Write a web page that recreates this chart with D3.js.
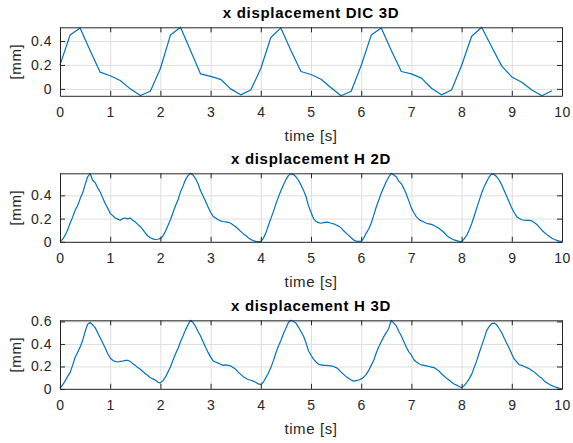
<!DOCTYPE html>
<html>
<head>
<meta charset="utf-8">
<script src="https://cdn.jsdelivr.net/npm/d3@7"></script>
<style>
  body { margin: 0; background: #fff; }
  svg { font-family: "Liberation Sans", Arial, sans-serif; }
  .grid line { stroke: #dedede; stroke-width: 1; }
  .grid path { display: none; }
  .ax path, .ax line { stroke: #262626; }
  .ax text { fill: #262626; font-size: 14px; letter-spacing: 0.5px; }
</style>
</head>
<body>
<div id="chart"></div>
<script>
// titles of the three subplots
var titles = ["x displacement DIC 3D", "x displacement H 2D", "x displacement H 3D"];
var xTicks = [0, 1, 2, 3, 4, 5, 6, 7, 8, 9, 10];
var yTicks = [[0, 0.2, 0.4], [0, 0.2, 0.4], [0, 0.2, 0.4, 0.6]];

// DIC 3D, sampled every 0.2 s
var dicTime = d3.range(0, 50).map(function(i) { return i * 0.2; });
var dic3d = [
  0.20, 0.45, 0.51, 0.32, 0.14, 0.11, 0.07, 0.00, -0.056, -0.02,
  0.17, 0.45, 0.515, 0.32, 0.125, 0.105, 0.08, 0.00, -0.05, -0.01,
  0.17, 0.43, 0.51, 0.32, 0.145, 0.12, 0.08, 0.01, -0.058, -0.02,
  0.195, 0.45, 0.51, 0.32, 0.145, 0.125, 0.09, 0.005, -0.05, -0.01,
  0.195, 0.44, 0.515, 0.35, 0.19, 0.10, 0.055, -0.01, -0.058, -0.015
];

// H 2D and H 3D, sampled every 0.05 s
var hTime = d3.range(0, 201).map(function(i) { return i * 0.05; });
var h2d = [
  0.005, 0.02, 0.055, 0.10, 0.16, 0.21, 0.27, 0.31, 0.37, 0.42,
  0.49, 0.56, 0.588, 0.53, 0.51, 0.465, 0.43, 0.38, 0.33, 0.29,
  0.245, 0.225, 0.205, 0.195, 0.185, 0.20, 0.205, 0.198, 0.205, 0.185,
  0.17, 0.15, 0.13, 0.105, 0.075, 0.05, 0.035, 0.025, 0.02, 0.022,
  0.03, 0.05, 0.09, 0.14, 0.19, 0.25, 0.31, 0.36, 0.43, 0.48,
  0.535, 0.57, 0.59, 0.575, 0.545, 0.50, 0.44, 0.395, 0.35, 0.30,
  0.255, 0.22, 0.205, 0.19, 0.18, 0.175, 0.172, 0.168, 0.16, 0.145,
  0.13, 0.11, 0.09, 0.07, 0.055, 0.035, 0.02, 0.01, 0.004, 0.002,
  0.002, 0.03, 0.075, 0.14, 0.20, 0.26, 0.325, 0.385, 0.44, 0.49,
  0.535, 0.57, 0.585, 0.58, 0.56, 0.53, 0.49, 0.445, 0.39, 0.31,
  0.255, 0.20, 0.175, 0.165, 0.16, 0.165, 0.17, 0.168, 0.16, 0.155,
  0.145, 0.135, 0.12, 0.095, 0.075, 0.055, 0.035, 0.015, 0.006, 0.003,
  0.005, 0.03, 0.075, 0.11, 0.16, 0.23, 0.30, 0.36, 0.42, 0.47,
  0.52, 0.56, 0.59, 0.575, 0.56, 0.52, 0.50, 0.46, 0.41, 0.35,
  0.29, 0.25, 0.215, 0.195, 0.18, 0.17, 0.16, 0.155, 0.15, 0.14,
  0.13, 0.115, 0.10, 0.08, 0.055, 0.04, 0.026, 0.016, 0.01, 0.004,
  0.0, 0.025, 0.055, 0.10, 0.155, 0.22, 0.29, 0.355, 0.42, 0.475,
  0.52, 0.56, 0.585, 0.58, 0.56, 0.53, 0.49, 0.44, 0.39, 0.34,
  0.29, 0.25, 0.215, 0.20, 0.19, 0.187, 0.185, 0.185, 0.18, 0.165,
  0.15, 0.125, 0.10, 0.08, 0.062, 0.045, 0.03, 0.02, 0.012, 0.006,
  0.003
];
var h3d = [
  0.005, 0.035, 0.07, 0.11, 0.145, 0.21, 0.28, 0.325, 0.37, 0.43,
  0.51, 0.575, 0.59, 0.57, 0.545, 0.50, 0.455, 0.41, 0.365, 0.315,
  0.275, 0.255, 0.245, 0.24, 0.245, 0.248, 0.255, 0.255, 0.245, 0.225,
  0.21, 0.19, 0.175, 0.155, 0.135, 0.12, 0.10, 0.09, 0.08, 0.06,
  0.055, 0.075, 0.105, 0.15, 0.195, 0.255, 0.31, 0.36, 0.42, 0.47,
  0.525, 0.57, 0.61, 0.59, 0.555, 0.51, 0.47, 0.42, 0.37, 0.325,
  0.285, 0.25, 0.24, 0.23, 0.22, 0.21, 0.215, 0.21, 0.205, 0.19,
  0.175, 0.15, 0.13, 0.11, 0.095, 0.085, 0.078, 0.07, 0.06, 0.045,
  0.04, 0.06, 0.10, 0.14, 0.19, 0.25, 0.32, 0.38, 0.43, 0.49,
  0.54, 0.59, 0.61, 0.60, 0.585, 0.55, 0.51, 0.47, 0.41, 0.34,
  0.30, 0.265, 0.24, 0.22, 0.215, 0.21, 0.21, 0.208, 0.205, 0.20,
  0.19, 0.175, 0.15, 0.13, 0.11, 0.095, 0.08, 0.07, 0.075, 0.08,
  0.09, 0.105, 0.13, 0.165, 0.21, 0.255, 0.32, 0.375, 0.42, 0.465,
  0.50, 0.54, 0.61, 0.585, 0.56, 0.51, 0.47, 0.42, 0.37, 0.33,
  0.30, 0.26, 0.24, 0.225, 0.215, 0.21, 0.205, 0.20, 0.195, 0.19,
  0.175, 0.16, 0.135, 0.115, 0.095, 0.08, 0.06, 0.045, 0.035, 0.022,
  0.012, 0.03, 0.057, 0.09, 0.13, 0.19, 0.25, 0.32, 0.385, 0.45,
  0.52, 0.555, 0.58, 0.585, 0.57, 0.535, 0.50, 0.45, 0.405, 0.36,
  0.31, 0.265, 0.24, 0.215, 0.21, 0.20, 0.19, 0.18, 0.165, 0.15,
  0.13, 0.11, 0.095, 0.07, 0.055, 0.04, 0.03, 0.02, 0.013, 0.006,
  0.002
];

var series = [
  { time: dicTime, value: dic3d },
  { time: hTime, value: h2d },
  { time: hTime, value: h3d }
];

var width = 573, height = 443;
var left = 60, right = 562, plotH = 68.5;
var tops = [27.3, 173.3, 320.3];

var svg = d3.select("#chart").append("svg")
    .attr("width", width)
    .attr("height", height);

var x = d3.scaleLinear().domain([0, 10]).range([left, right]);

series.forEach(function(s, k) {
    var top = tops[k], bottom = top + plotH;
    var pts = s.time.map(function(t, i) { return [t, s.value[i]]; });
    var y = d3.scaleLinear()
        .domain(d3.extent(s.value))  // axis tight
        .range([bottom, top]);

    var g = svg.append("g");

    // grid
    g.append("g")
        .attr("class", "grid")
        .attr("transform", "translate(0," + bottom + ")")
        .call(d3.axisBottom(x).tickValues(xTicks).tickSize(-plotH).tickFormat(""));
    g.append("g")
        .attr("class", "grid")
        .attr("transform", "translate(" + left + ",0)")
        .call(d3.axisLeft(y).tickValues(yTicks[k]).tickSize(-(right - left)).tickFormat(""));

    // data line
    g.append("path")
        .datum(pts)
        .attr("fill", "none")
        .attr("stroke", "#0072BD")
        .attr("stroke-width", 1.2)
        .attr("stroke-linejoin", "round")
        .attr("d", d3.line()
            .x(function(d) { return x(d[0]); })
            .y(function(d) { return y(d[1]); }));

    // axes, ticks pointing inward, box all round
    g.append("g")
        .attr("class", "ax")
        .attr("transform", "translate(0," + bottom + ")")
        .call(d3.axisBottom(x).tickValues(xTicks).tickSizeInner(-5).tickSizeOuter(0).tickPadding(11));
    g.append("g")
        .attr("class", "ax")
        .attr("transform", "translate(0," + top + ")")
        .call(d3.axisTop(x).tickValues(xTicks).tickSizeInner(-5).tickSizeOuter(0).tickFormat(""));
    g.append("g")
        .attr("class", "ax")
        .attr("transform", "translate(" + left + ",0)")
        .call(d3.axisLeft(y).tickValues(yTicks[k]).tickSizeInner(-5).tickSizeOuter(0).tickPadding(8)
            .tickFormat(function(d) { return d === 0 ? "0" : d3.format(".1f")(d); }));
    g.append("g")
        .attr("class", "ax")
        .attr("transform", "translate(" + right + ",0)")
        .call(d3.axisRight(y).tickValues(yTicks[k]).tickSizeInner(-5).tickSizeOuter(0).tickFormat(""));

    // titles and labels
    svg.append("text")
        .attr("x", (left + right) / 2)
        .attr("y", top - 9)
        .attr("text-anchor", "middle")
        .style("font-size", "15px")
        .style("font-weight", "bold")
        .style("letter-spacing", "0.7px")
        .attr("fill", "#000")
        .text(titles[k]);

    svg.append("text")
        .attr("x", (left + right) / 2)
        .attr("y", bottom + 45)
        .attr("text-anchor", "middle")
        .style("font-size", "15px")
        .style("letter-spacing", "0.6px")
        .attr("fill", "#262626")
        .text("time [s]");

    svg.append("text")
        .attr("transform", "translate(21," + (top + plotH / 2) + ") rotate(-90)")
        .attr("text-anchor", "middle")
        .style("font-size", "15px")
        .style("letter-spacing", "0.6px")
        .attr("fill", "#262626")
        .text("[mm]");
});
</script>
</body>
</html>
